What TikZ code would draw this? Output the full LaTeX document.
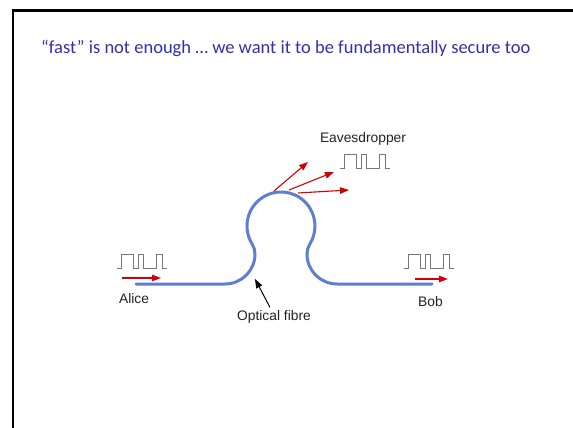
\documentclass[tikz,border=0pt]{standalone}
\usepackage{fontspec}
\setmainfont{Liberation Sans}
\newfontfamily\titlefont{Carlito}
\usetikzlibrary{arrows.meta}
\definecolor{fibreblue}{RGB}{94,126,208}
\definecolor{titleblue}{RGB}{48,48,176}
\definecolor{sigred}{RGB}{210,0,0}
\definecolor{pulsegray}{RGB}{120,120,120}
\definecolor{labelgray}{RGB}{34,34,34}
\tikzset{
  fibre/.style={draw=fibreblue, line width=3pt, line cap=round},
  redarrow/.style={draw=sigred, line width=1.1pt, -{Triangle[length=9pt,width=6.5pt]}},
  blackarrow/.style={draw=black, line width=1pt, -{Triangle[length=9pt,width=6.5pt]}},
  pulse/.style={draw=pulsegray, line width=0.9pt},
  lbl/.style={font=\fontsize{13.8}{16}\selectfont, text=labelgray, inner sep=0pt},
  pulsepic/.pic={\path[pulse] (0,0) -- (4,0) -- (4,-14) -- (16,-14) -- (16,0) -- (21,0) -- (21,-14) -- (26,-14) -- (26,0) -- (39,0) -- (39,-14) -- (45,-14) -- (45,0) -- (50,0);}
}
\begin{document}
\begin{tikzpicture}[x=1pt,y=-1pt]
\useasboundingbox (0,0) rectangle (573,428);
\clip (0,0) rectangle (573,428);
% slide frame
\draw[line width=2.5pt] (13,440) -- (13,10.5) -- (600,10.5);
% title
\node[anchor=west, inner sep=0pt, text=titleblue, font=\titlefont\fontsize{18.5}{22}\selectfont] (title) at (41,48) {“fast” is not enough … we want it to be fundamentally secure too};
% fibre
\path[fibre] (136,284) coordinate (fa) -- (225,284)
  arc[start angle=90, end angle=0, radius=30]
  arc[start angle=0, end angle=-31.9, radius=19]
  arc[start angle=148.1, end angle=391.9, radius=34]
  arc[start angle=211.9, end angle=180, radius=19]
  arc[start angle=180, end angle=90, radius=30]
  -- (432,284) coordinate (fb);
% pulses
\pic at (117,268) {pulsepic};
\pic at (340,168) {pulsepic};
\pic at (404,268) {pulsepic};
% labels
\node[lbl] (alice) at (134,299) {Alice};
\node[lbl] (bob) at (430.5,302) {Bob};
\node[lbl] (eve) at (363,139) {Eavesdropper};
\node[lbl] (fibre) at (274,317) {Optical fibre};
% red arrows
\coordinate (a1) at (122,278); \coordinate (a2) at (161,278);
\draw[redarrow] (a1) -- (a2);
\coordinate (b1) at (415,279); \coordinate (b2) at (448,279);
\draw[redarrow] (b1) -- (b2);
\coordinate (e1s) at (274,191); \coordinate (e1e) at (308,162);
\coordinate (e2s) at (289,190); \coordinate (e2e) at (334,172);
\coordinate (e3s) at (298,193); \coordinate (e3e) at (349,190);
\draw[redarrow] (e1s) -- (e1e);
\draw[redarrow] (e2s) -- (e2e);
\draw[redarrow] (e3s) -- (e3e);
% black arrow
\coordinate (fp) at (255,279);
\draw[blackarrow] (fibre.north) ++(-4,-3) -- (fp);
\end{tikzpicture}
\end{document}
